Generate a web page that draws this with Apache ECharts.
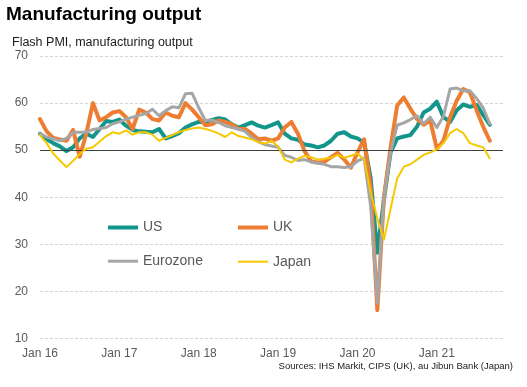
<!DOCTYPE html>
<html><head><meta charset="utf-8">
<script src="https://cdn.jsdelivr.net/npm/echarts@6/dist/echarts.min.js"></script>
<style>html,body{margin:0;padding:0;background:#fff}#c{width:527px;height:387px}</style>
</head><body><div id="c"></div>
<script>
// ---- data ----
const years = ['16', '17', '18', '19', '20', '21'];
const months = ['Jan', 'Feb', 'Mar', 'Apr', 'May', 'Jun', 'Jul', 'Aug', 'Sep', 'Oct', 'Nov', 'Dec'];
const axisMonthCount = 71; // Jan 16 .. Nov 21 on the axis
const yTicks = [10, 20, 30, 40, 50, 60, 70];

// Jan 16 .. Sep 21
const us = [53.5, 52.3, 51.5, 50.8, 49.8, 50.6, 52.5, 53.5, 52.8, 54.5,
  56.2, 56.0, 56.5, 55.2, 54.3, 54.0, 53.9, 53.8, 54.5, 52.5,
  53.0, 53.6, 54.8, 55.5, 56.0, 56.0, 56.4, 56.8, 56.5, 55.5,
  54.8, 55.3, 55.9, 55.2, 54.8, 55.3, 55.9, 53.5, 52.5, 52.2,
  51.2, 51.0, 50.6, 51.0, 52.0, 53.5, 53.8, 52.9, 52.5, 51.6,
  44.0, 28.2, 39.5, 49.5, 52.5, 52.9, 53.2, 55.0, 58.0, 58.8,
  60.3, 57.0, 56.0, 58.5, 59.7, 59.2, 59.6, 57.5, 55.4];
const uk = [56.6, 54.0, 52.6, 52.3, 52.0, 54.3, 48.6, 53.5, 60.0, 56.3,
  57.0, 58.0, 58.3, 57.0, 54.5, 58.6, 58.0, 56.6, 56.3, 58.0,
  57.3, 57.0, 60.0, 58.6, 57.0, 55.3, 55.5, 56.3, 56.0, 55.5,
  54.5, 54.5, 53.5, 52.3, 52.5, 52.0, 52.5, 54.8, 56.0, 53.5,
  49.8, 47.6, 47.4, 47.5, 48.5, 49.4, 48.0, 46.3, 49.5, 52.3,
  42.0, 16.0, 40.0, 50.5, 59.5, 61.2, 58.8, 56.6, 55.4, 56.3,
  50.3, 52.0, 57.0, 60.5, 63.0, 62.3, 58.5, 55.0, 52.0];
const eurozone = [53.5, 52.8, 52.4, 52.0, 52.5, 53.8, 53.8, 53.8, 54.4, 54.6,
  54.8, 55.6, 56.0, 56.6, 57.0, 57.4, 57.8, 58.7, 57.3, 58.4,
  59.2, 59.0, 62.0, 62.1, 59.0, 56.3, 56.4, 55.9, 55.2, 54.8,
  54.5, 54.0, 52.7, 51.8, 51.2, 50.9, 50.6, 48.9, 48.5, 47.8,
  48.0, 47.5, 47.2, 47.0, 46.5, 46.5, 46.3, 46.5, 47.7, 48.3,
  38.0, 17.5, 40.0, 49.5, 55.3, 55.8, 56.5, 57.3, 55.6, 57.0,
  54.8, 57.2, 63.0, 63.2, 62.6, 62.6, 61.0, 59.0, 55.6];
const japan = [53.2, 51.5, 49.3, 47.8, 46.4, 47.7, 49.2, 50.3, 50.6, 51.8,
  53.0, 53.8, 53.5, 54.2, 53.3, 53.8, 53.8, 53.3, 52.0, 52.6,
  53.2, 53.8, 54.3, 54.6, 54.8, 54.5, 54.1, 53.5, 52.8, 53.8,
  53.0, 52.7, 52.3, 51.7, 51.4, 52.0, 50.8, 48.0, 47.4, 48.2,
  48.8, 48.5, 48.0, 48.2, 48.4, 49.0, 48.4, 48.8, 49.3, 48.0,
  41.0, 35.5, 31.0, 37.5, 44.0, 46.5, 47.0, 48.0, 49.0, 49.5,
  50.2, 51.5, 53.6, 54.5, 53.6, 51.5, 51.0, 50.6, 48.3];

// ---- build categories ----
const categories = [];
years.forEach(y => months.forEach(m => { if (categories.length < axisMonthCount) categories.push(m + ' ' + y); }));

const FONT = "'Liberation Sans', Arial, sans-serif";
const colors = { US: '#12958a', UK: '#ee7d31', Eurozone: '#a6a6a6', Japan: '#f6c800' };
const widths = { US: 4, UK: 4, Eurozone: 3, Japan: 2 };

function lineSeries(name, data, z) {
  return {
    name, type: 'line', data, symbol: 'none', z,
    lineStyle: { width: widths[name], color: colors[name], cap: 'round', join: 'round' },
    itemStyle: { color: colors[name] },
    emphasis: { disabled: true }, animation: false
  };
}
function legendItem(name, left, top) {
  return {
    data: [{ name, icon: 'rect' }], left, top, padding: 0,
    itemWidth: 30, itemHeight: widths[name], selectedMode: false,
    textStyle: { fontFamily: FONT, fontSize: 14, color: '#595959' }
  };
}

const chart = echarts.init(document.getElementById('c'), null, { renderer: 'canvas' });
chart.setOption({
  animation: false,
  backgroundColor: '#fff',
  title: [
    { text: 'Manufacturing output', left: 6, top: 5, padding: 0,
      textStyle: { fontFamily: FONT, fontSize: 19, fontWeight: 'bold', color: '#000' } },
    { text: 'Flash PMI, manufacturing output', left: 12, top: 36, padding: 0,
      textStyle: { fontFamily: FONT, fontSize: 12.5, fontWeight: 'normal', color: '#1a1a1a' } },
    { text: 'Sources: IHS Markit, CIPS (UK), au Jibun Bank (Japan)', right: 14, top: 361, padding: 0,
      textStyle: { fontFamily: FONT, fontSize: 9.5, fontWeight: 'normal', color: '#1a1a1a' } }
  ],
  legend: [
    legendItem('US', 108, 220.5),
    legendItem('UK', 238, 220.5),
    legendItem('Eurozone', 108, 254.2),
    legendItem('Japan', 238, 254.7)
  ],
  grid: { left: 40, right: 24, top: 56, bottom: 48.5, containLabel: false },
  xAxis: {
    type: 'category', data: categories, boundaryGap: false,
    axisLine: { show: false }, axisTick: { show: false },
    axisLabel: { interval: (i) => i % 12 === 0, fontFamily: FONT, fontSize: 12, color: '#595959', margin: 9 },
    splitLine: { show: false }
  },
  yAxis: {
    type: 'value', min: yTicks[0], max: yTicks[yTicks.length - 1], interval: 10,
    axisLine: { show: false }, axisTick: { show: false },
    axisLabel: { fontFamily: FONT, fontSize: 12, color: '#595959', margin: 12 },
    splitLine: { lineStyle: { color: '#d4d4d4', type: [3, 2], width: 1 } }
  },
  series: [
    { name: 'ref', type: 'line', data: [], z: 1, silent: true,
      markLine: { silent: true, symbol: 'none', label: { show: false }, animation: false,
        lineStyle: { color: '#404040', type: 'solid', width: 1 },
        data: [{ yAxis: 50 }] } },
    lineSeries('US', us, 2),
    lineSeries('UK', uk, 3),
    lineSeries('Eurozone', eurozone, 4),
    lineSeries('Japan', japan, 5)
  ]
});
</script></body></html>
